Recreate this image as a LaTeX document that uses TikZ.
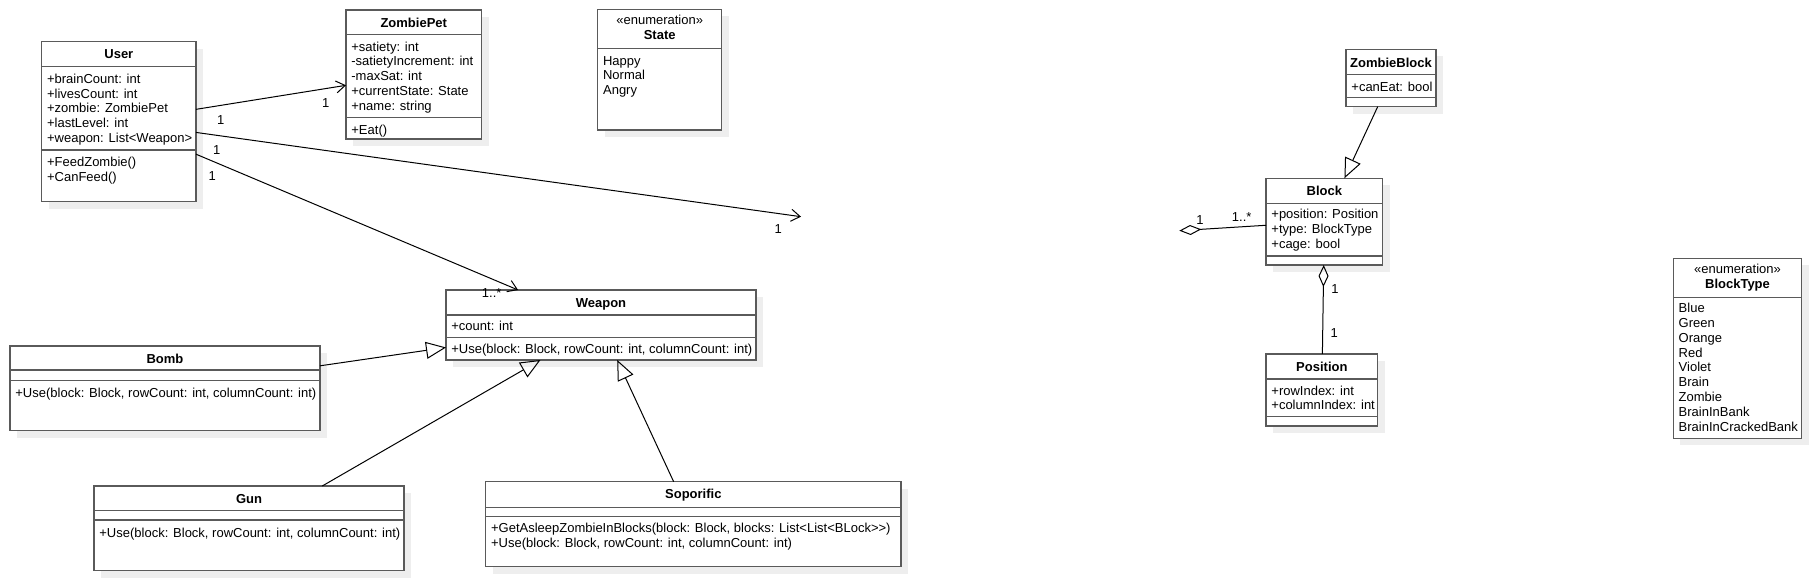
\documentclass[tikz,border=0pt]{standalone}
\usepackage{fontspec}
\setmainfont{Liberation Sans}
\usetikzlibrary{arrows.meta,fit,shadows}
\definecolor{boxgray}{HTML}{5A5A5A}
\definecolor{shadowgray}{HTML}{EEEEEE}
\newcommand\umlfont{\fontsize{6.5}{7.4}\selectfont}
\newcommand\fl{\rule{0pt}{6pt}}
\begin{document}
\begin{tikzpicture}[x=0.5pt,y=-0.5pt,
  cls/.style={draw=boxgray, line width=0.7pt, fill=white, inner sep=0pt, outer sep=0pt,
    drop shadow={shadow xshift=3.5pt, shadow yshift=-3.5pt, fill=shadowgray, opacity=1}},
  div/.style={draw=boxgray, line width=0.7pt},
  ttl/.style={font=\umlfont\bfseries, anchor=base, inner sep=0pt},
  stereo/.style={font=\umlfont, anchor=base, inner sep=0pt},
  mem/.style={font=\umlfont, anchor=north west, align=left, inner sep=0pt},
  lab/.style={font=\umlfont, inner sep=0pt},
  conn/.style={draw=black, line width=0.5pt},
  assoc/.style={conn, -{Straight Barb[length=4.5pt,width=6pt]}},
  gen/.style={conn, -{Triangle[open,length=10pt,width=8.5pt]}},
  aggend/.style={conn, -{Diamond[open,length=11pt,width=5pt]}},
  aggstart/.style={conn, {Diamond[open,length=11pt,width=5pt]}-}
]
\path[fill=white] (0,0) rectangle (1811,581);
\useasboundingbox (0,0) rectangle (1811,581);

% ---------- User
\node[cls, fit={(41.7,41.7) (196,201.7)}] (user) {};
\draw[div] (41.7,66.7) -- (196,66.7);
\draw[div] (41.7,150) -- (196,150);
\node[ttl] (userT) at (118.85,59) {User};
\node[mem] (userA) at (46.7,71) {\fl+brainCount: int\\+livesCount: int\\+zombie: ZombiePet\\+lastLevel: int\\+weapon: List<Weapon>};
\node[mem] (userM) at (46.7,154) {\fl+FeedZombie()\\+CanFeed()};

% ---------- ZombiePet
\node[cls, fit={(346,10) (481.5,139)}] (zp) {};
\draw[div] (346,34.3) -- (481.5,34.3);
\draw[div] (346,117.3) -- (481.5,117.3);
\node[ttl] (zpT) at (413.75,28) {ZombiePet};
\node[mem] (zpA) at (351,38.7) {\fl+satiety: int\\-satietyIncrement: int\\-maxSat: int\\+currentState: State\\+name: string};
\node[mem] (zpM) at (351,122) {\fl+Eat()};

% ---------- State
\node[cls, fit={(597.7,9.3) (721.7,130)}] (state) {};
\draw[div] (597.7,48.3) -- (721.7,48.3);
\node[stereo] (stateS) at (659.7,24.6) {«enumeration»};
\node[ttl] (stateT) at (659.7,39.3) {State};
\node[mem] (stateA) at (602.7,52.7) {\fl Happy\\Normal\\Angry};

% ---------- Weapon
\node[cls, fit={(446,290) (756,360)}] (weapon) {};
\draw[div] (446,315) -- (756,315);
\draw[div] (446,337.7) -- (756,337.7);
\node[ttl] (weaponT) at (601,307.3) {Weapon};
\node[mem] (weaponA) at (451,318) {\fl+count: int};
\node[mem] (weaponM) at (451,341.3) {\fl+Use(block: Block, rowCount: int, columnCount: int)};

% ---------- Bomb
\node[cls, fit={(10,346) (320,430.7)}] (bomb) {};
\draw[div] (10,370) -- (320,370);
\draw[div] (10,380.7) -- (320,380.7);
\node[ttl] (bombT) at (165,363.3) {Bomb};
\node[mem] (bombM) at (15,384.7) {\fl+Use(block: Block, rowCount: int, columnCount: int)};

% ---------- Gun
\node[cls, fit={(94,486) (404,570.7)}] (gun) {};
\draw[div] (94,510.7) -- (404,510.7);
\draw[div] (94,520) -- (404,520);
\node[ttl] (gunT) at (249,503.3) {Gun};
\node[mem] (gunM) at (99,524.7) {\fl+Use(block: Block, rowCount: int, columnCount: int)};

% ---------- Soporific
\node[cls, fit={(485.7,481.7) (901,566.7)}] (sop) {};
\draw[div] (485.7,507.3) -- (901,507.3);
\draw[div] (485.7,516.7) -- (901,516.7);
\node[ttl] (sopT) at (693.35,499) {Soporific};
\node[mem] (sopM) at (490.7,520.3) {\fl+GetAsleepZombieInBlocks(block: Block, blocks: List<List<BLock>{}>)\\+Use(block: Block, rowCount: int, columnCount: int)};

% ---------- ZombieBlock
\node[cls, fit={(1346,49.3) (1436,106.7)}] (zb) {};
\draw[div] (1346,74.3) -- (1436,74.3);
\draw[div] (1346,97.7) -- (1436,97.7);
\node[ttl] (zbT) at (1391,67.3) {ZombieBlock};
\node[mem] (zbA) at (1351,78.7) {\fl+canEat: bool};

% ---------- Block
\node[cls, fit={(1266,178.3) (1382.7,265)}] (block) {};
\draw[div] (1266,203.3) -- (1382.7,203.3);
\draw[div] (1266,256) -- (1382.7,256);
\node[ttl] (blockT) at (1324.35,195.7) {Block};
\node[mem] (blockA) at (1271,206.3) {\fl+position: Position\\+type: BlockType\\+cage: bool};

% ---------- Position
\node[cls, fit={(1266,354) (1377.7,426)}] (pos) {};
\draw[div] (1266,379) -- (1377.7,379);
\draw[div] (1266,416.7) -- (1377.7,416.7);
\node[ttl] (posT) at (1321.85,371.3) {Position};
\node[mem] (posA) at (1271,382.7) {\fl+rowIndex: int\\+columnIndex: int};

% ---------- BlockType
\node[cls, fit={(1673.3,258.3) (1801.7,438.3)}] (bt) {};
\draw[div] (1673.3,297.3) -- (1801.7,297.3);
\node[stereo] (btS) at (1737.5,273.6) {«enumeration»};
\node[ttl] (btT) at (1737.5,288.3) {BlockType};
\node[mem] (btA) at (1678.3,300.3) {\fl Blue\\Green\\Orange\\Red\\Violet\\Brain\\Zombie\\BrainInBank\\BrainInCrackedBank};

% ---------- connectors
\coordinate (dangle) at (801,216.7);
\coordinate (aggL) at (1179.3,230.7);
\draw[assoc] (user) -- (zp);
\draw[assoc] (user) -- (dangle);
\draw[assoc] (user) -- (weapon);
\draw[gen] (bomb) -- (weapon);
\draw[gen] (gun) -- (weapon);
\draw[gen] (sop) -- (weapon);
\draw[gen] (zb) -- (block);
\draw[aggend] (block) -- (aggL);
\draw[aggstart] (block) -- (pos);

% ---------- multiplicities
\node[lab] (m1) at (220.7,120) {1};
\node[lab] (m2) at (325.7,103.3) {1};
\node[lab] (m3) at (216.7,150) {1};
\node[lab] (m4) at (778.3,229.3) {1};
\node[lab] (m5) at (212.3,175.7) {1};
\node[lab] (m6) at (491.7,293) {1..*};
\node[lab] (m7) at (1200,220) {1};
\node[lab] (m8) at (1241.7,216.7) {1..*};
\node[lab] (m9) at (1335,289.3) {1};
\node[lab] (m10) at (1334.3,333.3) {1};
\end{tikzpicture}
\end{document}
